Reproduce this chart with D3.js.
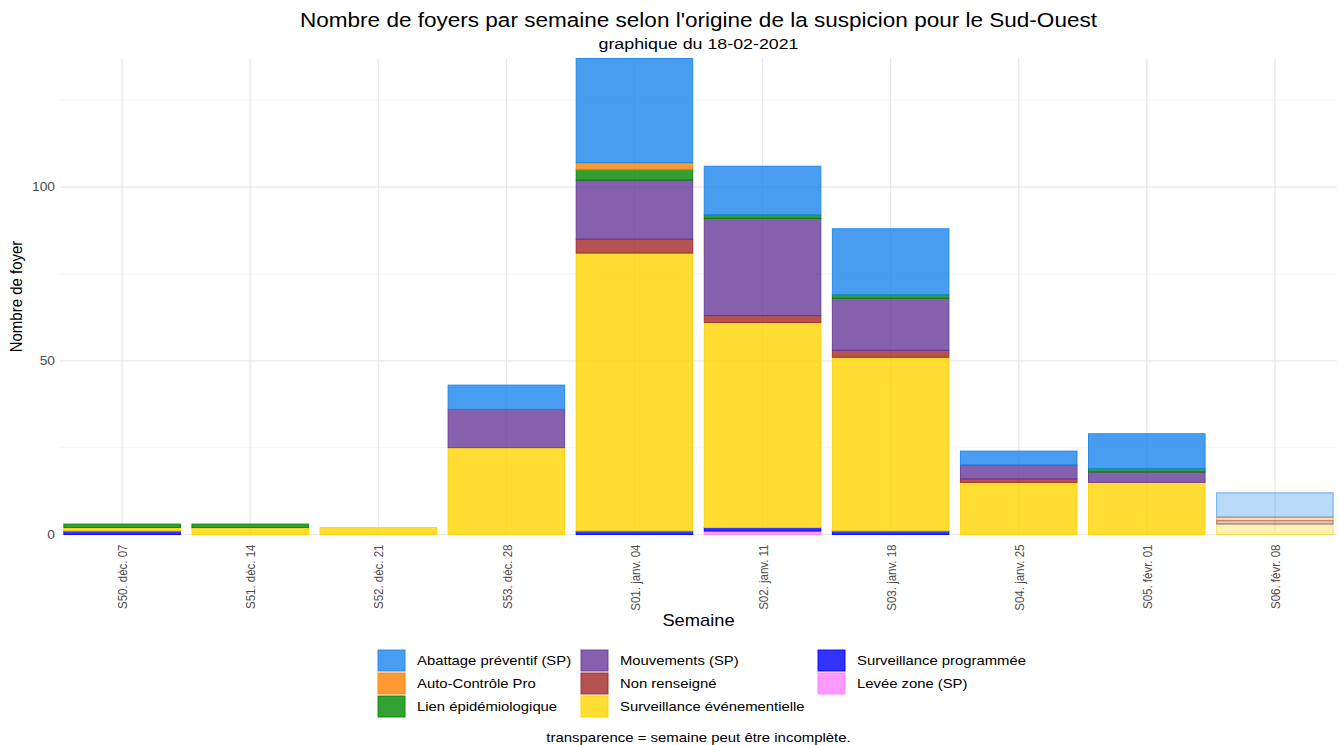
<!DOCTYPE html>
<html>
<head>
<meta charset="utf-8">
<script src="https://cdn.jsdelivr.net/npm/d3@7"></script>
<style>
  body { margin: 0; background: #fff; }
  text { font-family: "Liberation Sans", Arial, sans-serif; }
</style>
</head>
<body>
<svg id="chart" width="1339" height="745"></svg>
<script>
// weeks on the x axis
var weeks = ["S50. déc. 07", "S51. déc. 14", "S52. déc. 21", "S53. déc. 28", "S01. janv. 04",
    "S02. janv. 11", "S03. janv. 18", "S04. janv. 25", "S05. févr. 01", "S06. févr. 08"];

// series values, stacked bottom -> top
var levee     = [0, 0, 0, 0, 0, 1, 0, 0, 0, 0];
var survProg  = [1, 0, 0, 0, 1, 1, 1, 0, 0, 0];
var survEv    = [1, 2, 2, 25, 80, 59, 50, 15, 15, 3];
var nonRens   = [0, 0, 0, 0, 4, 2, 2, 1, 0, 0];
var mouv      = [0, 0, 0, 11, 17, 28, 15, 4, 3, 1];
var lien      = [1, 1, 0, 0, 3, 1, 1, 0, 1, 0];
var autoCtrl  = [0, 0, 0, 0, 2, 0, 0, 0, 0, 1];
var abattage  = [0, 0, 0, 7, 30, 14, 19, 4, 10, 7];

var incompleteWeeks = ["S06. févr. 08"];
var yTicks = [0, 50, 100];
var yMinor = [25, 75, 125];

var series = [
    {key: "levee", name: "Levée zone (SP)", values: levee, color: "#ff80ff"},
    {key: "survProg", name: "Surveillance programmée", values: survProg, color: "#0000ff"},
    {key: "survEv", name: "Surveillance événementielle", values: survEv, color: "#ffd400"},
    {key: "nonRens", name: "Non renseigné", values: nonRens, color: "#a22828"},
    {key: "mouv", name: "Mouvements (SP)", values: mouv, color: "#663a99"},
    {key: "lien", name: "Lien épidémiologique", values: lien, color: "#008800"},
    {key: "auto", name: "Auto-Contrôle Pro", values: autoCtrl, color: "#ff8100"},
    {key: "abattage", name: "Abattage préventif (SP)", values: abattage, color: "#1a85ec"}
];

// legend order (column-wise)
var legendOrder = ["abattage", "auto", "lien", "mouv", "nonRens", "survEv", "survProg", "levee"];

var svg = d3.select("#chart");
var pLeft = 60, pRight = 1337, pTop = 58.5, pBottom = 534.5;
var stretch = 1.15; // horizontal text stretch seen in the picture

var rows = weeks.map(function (w, i) {
    var r = {week: w};
    series.forEach(function (s) { r[s.key] = s.values[i]; });
    return r;
});

var stack = d3.stack().keys(series.map(function (s) { return s.key; }));
var stacked = stack(rows);
var maxTotal = d3.max(stacked[stacked.length - 1], function (d) { return d[1]; });

var x = d3.scalePoint().domain(weeks).range([pLeft, pRight]).padding(0.485);
var barW = x.step() * 0.91;
var y = d3.scaleLinear().domain([0, maxTotal]).range([pBottom, pTop]);

function hText(xx, yy, size, str, anchor) {
    return svg.append("text")
        .attr("transform", "translate(" + xx + "," + yy + ") scale(" + stretch + ",1)")
        .attr("text-anchor", anchor || "middle")
        .attr("font-size", size).attr("fill", "#000")
        .text(str);
}

// grid
var grid = svg.append("g");
grid.selectAll(".minor").data(yMinor).enter().append("line")
    .attr("x1", pLeft).attr("x2", pRight)
    .attr("y1", function (d) { return y(d); }).attr("y2", function (d) { return y(d); })
    .attr("stroke", "#f0f0f0").attr("stroke-width", 0.7);
grid.selectAll(".major").data(yTicks).enter().append("line")
    .attr("x1", pLeft).attr("x2", pRight)
    .attr("y1", function (d) { return y(d); }).attr("y2", function (d) { return y(d); })
    .attr("stroke", "#e8e8e8").attr("stroke-width", 1.2);
grid.selectAll(".vx").data(weeks).enter().append("line")
    .attr("x1", function (d) { return x(d); }).attr("x2", function (d) { return x(d); })
    .attr("y1", pTop).attr("y2", pBottom)
    .attr("stroke", "#e8e8e8").attr("stroke-width", 1.2);

// bars
var colorOf = {};
series.forEach(function (s) { colorOf[s.key] = s.color; });

svg.append("g").selectAll("g").data(stacked).enter().append("g")
    .each(function (layer) {
        d3.select(this).selectAll("rect")
            .data(layer.filter(function (d) { return d[1] - d[0] > 0; }))
            .enter().append("rect")
            .attr("x", function (d) { return x(d.data.week) - barW / 2; })
            .attr("width", barW)
            .attr("y", function (d) { return y(d[1]); })
            .attr("height", function (d) { return y(d[0]) - y(d[1]); })
            .attr("fill", colorOf[layer.key])
            .attr("fill-opacity", function (d) { return incompleteWeeks.indexOf(d.data.week) >= 0 ? 0.3 : 0.8; })
            .attr("stroke", colorOf[layer.key])
            .attr("stroke-opacity", function (d) { return incompleteWeeks.indexOf(d.data.week) >= 0 ? 0.6 : 0.9; })
            .attr("stroke-width", 1);
    });

// y axis
var yAxis = d3.axisLeft(y).tickValues(yTicks).tickSize(0).tickPadding(0);
var gy = svg.append("g").attr("transform", "translate(" + (pLeft - 5) + ",0)").call(yAxis);
gy.select(".domain").remove();
gy.selectAll("text")
    .attr("x", 0)
    .attr("transform", "scale(" + stretch + ",1)")
    .attr("font-size", 12).attr("fill", "#4d4d4d")
    .style("font-family", "'Liberation Sans', Arial, sans-serif");

// x axis
var xAxis = d3.axisBottom(x).tickSize(0).tickPadding(0);
var gx = svg.append("g").attr("transform", "translate(0," + pBottom + ")").call(xAxis);
gx.select(".domain").remove();
gx.selectAll("text")
    .attr("transform", "scale(" + stretch + ",1) rotate(-90)")
    .attr("text-anchor", "end")
    .attr("x", -10).attr("y", 0).attr("dy", "0.35em")
    .attr("font-size", 11.5).attr("fill", "#4d4d4d")
    .style("font-family", "'Liberation Sans', Arial, sans-serif");

// titles
hText(698.5, 27, 19.6, "Nombre de foyers par semaine selon l'origine de la suspicion pour le Sud-Ouest");
hText(698.5, 49, 15.5, "graphique du 18-02-2021");
hText(698.5, 626, 15.9, "Semaine");
svg.append("text")
    .attr("transform", "translate(22," + ((pTop + pBottom) / 2) + ") scale(" + stretch + ",1) rotate(-90)")
    .attr("text-anchor", "middle").attr("font-size", 15).attr("fill", "#000")
    .text("Nombre de foyer");

// legend
var colX = [378, 581, 818];
var legend = svg.append("g");
legendOrder.forEach(function (k, i) {
    var s = series.find(function (d) { return d.key === k; });
    var col = Math.floor(i / 3), row = i % 3;
    var gx0 = colX[col], gy0 = 650 + row * 23;
    legend.append("rect").attr("x", gx0).attr("y", gy0).attr("width", 27).attr("height", 21)
        .attr("fill", s.color).attr("fill-opacity", 0.8)
        .attr("stroke", s.color).attr("stroke-opacity", 0.9);
    hText(gx0 + 39, gy0 + 15, 12.9, s.name, "start");
});

hText(698.5, 742, 13, "transparence = semaine peut être incomplète.");
</script>
</body>
</html>
